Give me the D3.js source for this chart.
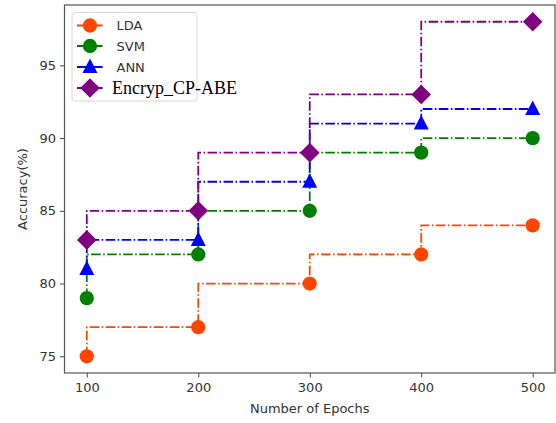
<!DOCTYPE html>
<html lang="en">
<head>
    <meta charset="UTF-8">
    <title>Accuracy vs Epochs</title>
    <script src="https://d3js.org/d3.v7.min.js"></script>
    <style>
        body { margin: 0; background: #fff; }
        svg { display: block; }
        .tick text { font-family: "DejaVu Sans", sans-serif; font-size: 13px; fill: #333; }
        .tick line, .domain { stroke: #444; }
    </style>
</head>
<body>

<div id="chart-container"></div>

<script>
    // chart data
    const epochs = [100, 200, 300, 400, 500];
    const ldaAcc = [75, 77, 80, 82, 84];
    const svmAcc = [79, 82, 85, 89, 90];
    const annAcc = [81, 83, 87, 91, 92];
    const cpabeAcc = [83, 85, 89, 93, 98];
    const xTicks = [100, 200, 300, 400, 500];
    const yTicks = [75, 80, 85, 90, 95];

    const series = [
        { name: "LDA", values: ldaAcc, color: "#ff4500", marker: "circle" },
        { name: "SVM", values: svmAcc, color: "#008000", marker: "circle" },
        { name: "ANN", values: annAcc, color: "#0000ff", marker: "triangle" },
        { name: "Encryp_CP-ABE", values: cpabeAcc, color: "#800080", marker: "diamond" }
    ];

    const width = 556;
    const height = 423;
    const margin = { top: 5, right: 1, bottom: 50, left: 64.5 };

    const svg = d3.select("#chart-container")
        .append("svg")
        .attr("width", width)
        .attr("height", height);

    const x = d3.scaleLinear()
        .domain([80, 520])
        .range([margin.left, width - margin.right]);

    const y = d3.scaleLinear()
        .domain([73.85, 99.15])
        .range([height - margin.bottom, margin.top]);

    // axes
    svg.append("g")
        .attr("transform", `translate(0,${height - margin.bottom})`)
        .call(d3.axisBottom(x).tickValues(xTicks).tickSize(4.5).tickPadding(5))
        .call(g => g.select(".domain").remove());

    svg.append("g")
        .attr("transform", `translate(${margin.left},0)`)
        .call(d3.axisLeft(y).tickValues(yTicks).tickSize(4.5).tickPadding(4))
        .call(g => g.select(".domain").remove());

    // frame
    svg.append("rect")
        .attr("x", margin.left)
        .attr("y", margin.top)
        .attr("width", width - margin.right - margin.left)
        .attr("height", height - margin.bottom - margin.top)
        .attr("fill", "none")
        .attr("stroke", "#555")
        .attr("stroke-width", 1.2);

    function markerPath(type) {
        if (type === "circle") return d3.symbol(d3.symbolCircle, 160)();
        if (type === "triangle") return "M0,-8.5L7.5,6L-7.5,6Z";
        return "M0,-9.8L9.8,0L0,9.8L-9.8,0Z";
    }

    const line = d3.line()
        .x(d => x(d[0]))
        .y(d => y(d[1]))
        .curve(d3.curveStepBefore);

    series.forEach(s => {
        const pts = epochs.map((e, i) => [e, s.values[i]]);
        svg.append("path")
            .datum(pts)
            .attr("d", line)
            .attr("fill", "none")
            .attr("stroke", s.color)
            .attr("stroke-width", 1.8)
            .attr("stroke-dasharray", "9.6,2.4,1.6,2.4");
        svg.selectAll(null)
            .data(pts)
            .enter()
            .append("path")
            .attr("d", markerPath(s.marker))
            .attr("transform", d => `translate(${x(d[0])},${y(d[1])})`)
            .attr("fill", s.color);
    });

    // legend
    const legend = svg.append("g");
    legend.append("rect")
        .attr("x", 72)
        .attr("y", 12.5)
        .attr("width", 125)
        .attr("height", 88.5)
        .attr("rx", 3)
        .attr("fill", "#fff")
        .attr("fill-opacity", 0.85)
        .attr("stroke", "#d8d8d8");

    const legendY = [25.5, 46, 67, 88];
    series.forEach((s, i) => {
        const ly = legendY[i];
        legend.append("line")
            .attr("x1", 77).attr("x2", 104)
            .attr("y1", ly).attr("y2", ly)
            .attr("stroke", s.color)
            .attr("stroke-width", 1.8)
            .attr("stroke-dasharray", "9.6,2.4,1.6,2.4");
        legend.append("path")
            .attr("d", markerPath(s.marker))
            .attr("transform", `translate(90,${ly})`)
            .attr("fill", s.color);
        const serif = s.name === "Encryp_CP-ABE";
        legend.append("text")
            .attr("x", serif ? 112 : 116.5)
            .attr("y", serif ? ly + 5.5 : ly + 4.5)
            .attr("font-family", serif ? "'Liberation Serif', serif" : "'DejaVu Sans', sans-serif")
            .attr("font-size", serif ? 18 : 13)
            .attr("fill", serif ? "#000" : "#333")
            .text(s.name);
    });

    // axis labels
    svg.append("text")
        .attr("x", (margin.left + width - margin.right) / 2)
        .attr("y", 413)
        .attr("text-anchor", "middle")
        .attr("font-family", "'DejaVu Sans', sans-serif")
        .attr("font-size", 13)
        .attr("fill", "#333")
        .text("Number of Epochs");

    svg.append("text")
        .attr("transform", `translate(27,${(margin.top + height - margin.bottom) / 2}) rotate(-90)`)
        .attr("text-anchor", "middle")
        .attr("font-family", "'DejaVu Sans', sans-serif")
        .attr("font-size", 13)
        .attr("fill", "#333")
        .text("Accuracy(%)");
</script>
</body>
</html>
